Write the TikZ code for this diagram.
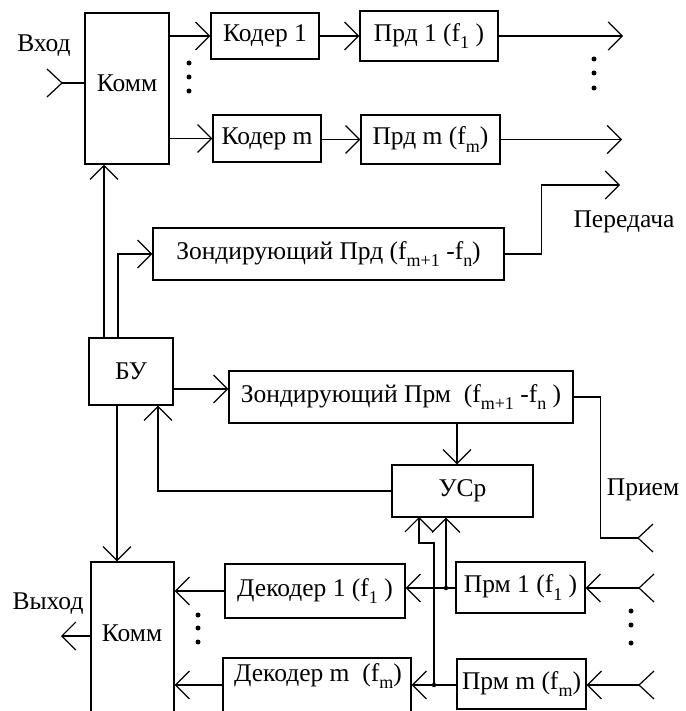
\documentclass[tikz,border=0pt]{standalone}
\usepackage{fontspec}
\setmainfont{Liberation Serif}
\usetikzlibrary{arrows.meta}
\newcommand\fsub[1]{\raisebox{-0.3em}{\fontsize{18}{18}\selectfont #1}}
\tikzset{
  box/.style={draw, line width=1.2pt, inner sep=0pt},
  arr/.style={line width=1.2pt, -{Straight Barb[length=14pt,width=28pt,line width=1.2pt]}},
  ln/.style={line width=1.2pt},
  txt/.style={inner sep=0pt, font=\fontsize{25.5}{29}\selectfont},
  dot/.style={circle, fill, inner sep=0pt, minimum size=5pt},
  jdot/.style={circle, fill, inner sep=0pt, minimum size=4.5pt},
  antL/.pic={\draw[line width=1.2pt] (0,0) -- (-15,-14) (0,0) -- (-15,14);},
  antR/.pic={\draw[line width=1.2pt] (0,0) -- (15,-14) (0,0) -- (15,14);}
}
\begin{document}
\begin{tikzpicture}[x=1pt,y=-1pt]
\useasboundingbox (0,0) rectangle (685,711);
\clip (0,0) rectangle (685,711);
% boxes
\node[box, minimum width=84pt, minimum height=151pt] (kommT) at (127,88.5) {};
\node[txt] (kommTt) at (127,83) {Комм};
\node[box, txt, minimum width=108pt, minimum height=46pt] (kod1) at (265,36) {Кодер 1};
\node[box, txt, minimum width=108pt, minimum height=47pt] (kodm) at (267,138.5) {Кодер m};
\node[box, txt, minimum width=138pt, minimum height=50pt] (prd1) at (429,36) {Прд 1 (f\fsub{1} )};
\node[box, txt, minimum width=139pt, minimum height=49pt] (prdm) at (430.5,139.5) {Прд m (f\fsub{m})};
\node[box, txt, minimum width=351pt, minimum height=52pt] (zprd) at (328.5,254) {Зондирующий Прд (f\fsub{m+1} -f\fsub{n})};
\node[box, txt, minimum width=84pt, minimum height=67pt] (bu) at (131,371.5) {БУ};
\node[box, txt, minimum width=344pt, minimum height=52pt] (zprm) at (401,397) {Зондирующий Прм\ \ (f\fsub{m+1} -f\fsub{n} )};
\node[box, txt, minimum width=141pt, minimum height=52pt] (usr) at (462.5,491) {УСр};
\node[box, minimum width=83pt, minimum height=198pt] (kommB) at (132.5,661) {};
\node[txt] (kommBt) at (132,633) {Комм};
\node[box, txt, minimum width=180pt, minimum height=54pt] (dek1) at (315,591) {Декодер 1 (f\fsub{1} )};
\node[box, minimum width=188pt, minimum height=82pt] (dekm) at (317,699) {};
\node[txt] (dekmt) at (318,676) {Декодер m\ \ (f\fsub{m})};
\node[box, txt, minimum width=129pt, minimum height=51pt] (prm1) at (520.5,587.5) {Прм 1 (f\fsub{1} )};
\node[box, txt, minimum width=129pt, minimum height=50pt] (prmm) at (521.5,684) {Прм m (f\fsub{m})};
% labels
\node[txt] (vhod) at (44,46) {Вход};
\node[txt] (vyhod) at (48,604) {Выход};
\node[txt] (pered) at (624,222) {Передача};
\node[txt] (priemt) at (643,490) {Прием};
% free ends
\coordinate (inA) at (62,83);
\coordinate (out1) at (623,36);
\coordinate (outm) at (622,139.5);
\coordinate (outz) at (620,185);
\coordinate (priem) at (638,538);
\coordinate (vyh) at (61,636);
\coordinate (ant1) at (639,588);
\coordinate (antm) at (639,685);
% antennas
\pic at (inA) {antL};
\pic at (priem) {antR};
\pic at (ant1) {antR};
\pic at (antm) {antR};
% connectors top
\draw[ln] (inA) -- (inA -| kommT.west);
\draw[arr] (kommT.east |- kod1.west) -- (kod1.west);
\draw[arr] (kommT.east |- kodm.west) -- (kodm.west);
\draw[arr] (kod1.east) -- (prd1.west);
\draw[arr] (kodm.east |- prdm.west) -- (prdm.west);
\draw[arr] (prd1.east) -- (out1);
\draw[arr] (prdm.east) -- (outm);
\draw[arr] (zprd.east) -- ++(37,0) |- (outz);
% BU
\draw[arr] ([xshift=-27pt]bu.north) -- ([xshift=-27pt]bu.north |- kommT.south);
\draw[arr] ([xshift=-13pt]bu.north) |- (zprd.west);
\draw[arr] ([yshift=-17.5pt]bu.east) -- ([yshift=-17.5pt]bu.east -| zprm.west);
\draw[ln] (zprm.east) -- ++(27,0) |- (priem);
\draw[arr] ([xshift=-5.5pt]usr.north |- zprm.south) -- ([xshift=-5.5pt]usr.north);
\draw[arr] (usr.west) -| ([xshift=27pt]bu.south);
\draw[arr] ([xshift=-14pt]bu.south) -- ([xshift=-14pt]bu.south |- kommB.north);
% bottom
\draw[arr] (kommB.west |- vyh) -- (vyh);
\draw[arr] (dek1.west) -- (dek1.west -| kommB.east);
\draw[arr] (dekm.west |- antm) -- (kommB.east |- antm);
\draw[arr] (ant1) -- (ant1 -| prm1.east);
\draw[arr] (antm) -- (antm -| prmm.east);
\coordinate (j1) at (446,588);
\coordinate (j2) at (434,685);
\draw[arr] (prm1.west |- j1) -- (dek1.east |- j1);
\draw[arr] (prmm.west |- j2) -- (dekm.east |- j2);
\draw[arr] (j1) -- (j1 |- usr.south);
\draw[arr] (j2) -- (434,543) -- (419,543) -- (419,517);
\node[jdot] at (j1) {};
\node[jdot] at (j2) {};
% ellipsis dots
\foreach \p in {(189,63),(189,77),(189,91),(594,59),(594,73),(594,88),(198,615),(198,628),(198,642),(631,611),(631,625),(631,643)}
  \node[dot] at \p {};
\end{tikzpicture}
\end{document}
